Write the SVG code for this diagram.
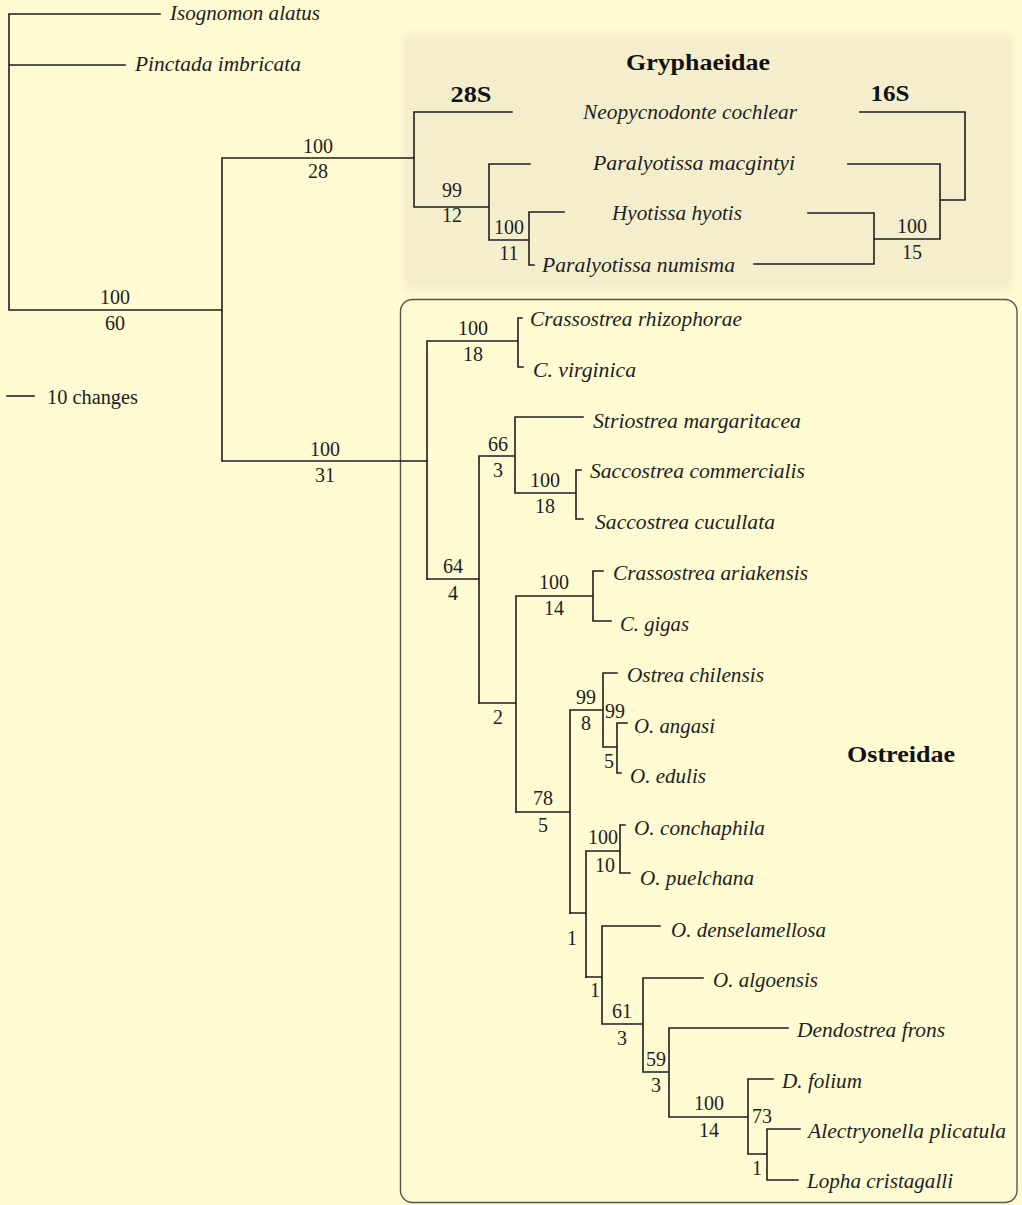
<svg xmlns="http://www.w3.org/2000/svg" width="1022" height="1205" viewBox="0 0 1022 1205">
<defs>
<filter id="soft" x="-5%" y="-5%" width="110%" height="110%"><feGaussianBlur stdDeviation="3"/></filter>
<style>
.br{fill:none;stroke:#1e1e1e;stroke-width:1.6;stroke-linecap:square}
.sp{font-family:"Liberation Serif",serif;font-style:italic;font-size:20px;fill:#1e1e1e}
.num{font-family:"Liberation Serif",serif;font-size:20px;fill:#1e1e1e;text-anchor:middle}
.ttl{font-family:"Liberation Serif",serif;font-weight:bold;font-size:24px;fill:#111;text-anchor:middle}
</style>
</defs>
<rect x="0" y="0" width="1022" height="1205" fill="#FEFAD1"/>
<rect id="gryphaeidae-bg" x="404" y="34" width="608" height="256" fill="#F4EECD" filter="url(#soft)"/>
<rect id="ostreidae-box" x="400.5" y="299.5" width="616.5" height="903" rx="12" fill="none" stroke="#555" stroke-width="1.4"/>

<g id="connectors" class="br">
<path d="M9,14 V310 M9,14 H160 M9,65 H125 M9,310 H222 M222,158 V461 M222,158 H414 M222,461 H427"/>
<path d="M414,112 V207 M414,112 H512 M414,207 H489 M489,164 V240 M489,164 H530 M489,240 H529 M529,212 V265 M529,212 H564 M529,265 H534"/>
<path d="M860,112 H965 V200 H940 M848,164 H940 V239 H874 M808,213 H874 V264 H754"/>
<path d="M427,341 V579 M427,341 H518 M518,318 V367 M518,318 H522 M518,367 H523"/>
<path d="M427,579 H479 M479,456 V703 M479,456 H515 M515,417 V493 M515,417 H583 M515,493 H576 M576,470 V519 M576,470 H581 M576,519 H583"/>
<path d="M479,703 H516 M516,596 V812 M516,596 H593 M593,571 V621 M593,571 H603 M593,621 H611"/>
<path d="M516,812 H570 M570,710 V913 M570,710 H603 M603,673 V747 M603,673 H617 M603,747 H617 M617,723 V773 M617,723 H627 M617,773 H621"/>
<path d="M570,913 H586 M586,851 V977 M586,851 H620 M620,825 V873 M620,825 H625 M620,873 H630"/>
<path d="M586,977 H602 M602,926 V1024 M602,926 H660 M602,1024 H643 M643,978 V1072 M643,978 H703 M643,1072 H669 M669,1028 V1117 M669,1028 H788 M669,1117 H748 M748,1079 V1154 M748,1079 H773 M748,1154 H767 M767,1129 V1180 M767,1129 H800 M767,1180 H798"/>
<path d="M7,396 H34"/>
</g>

<g id="titles">
<text class="ttl" x="698" y="70" textLength="144" lengthAdjust="spacingAndGlyphs">Gryphaeidae</text>
<text class="ttl" x="471" y="102" textLength="41" lengthAdjust="spacingAndGlyphs">28S</text>
<text class="ttl" x="890" y="101" textLength="39" lengthAdjust="spacingAndGlyphs">16S</text>
<text class="ttl" x="901" y="762" textLength="108" lengthAdjust="spacingAndGlyphs">Ostreidae</text>
</g>

<g id="scale"><text x="47" y="404" font-family="Liberation Serif, serif" font-size="20" fill="#1e1e1e" textLength="91" lengthAdjust="spacingAndGlyphs">10 changes</text></g>

<g id="taxa" class="sp">
<g id="t-isognomon"><text x="170" y="20" textLength="150" lengthAdjust="spacingAndGlyphs">Isognomon alatus</text></g>
<g id="t-pinctada"><text x="135" y="71" textLength="166" lengthAdjust="spacingAndGlyphs">Pinctada imbricata</text></g>
<g id="t-neopycnodonte"><text x="583" y="119" textLength="214" lengthAdjust="spacingAndGlyphs">Neopycnodonte cochlear</text></g>
<g id="t-pmacgintyi"><text x="593" y="170" textLength="202" lengthAdjust="spacingAndGlyphs">Paralyotissa macgintyi</text></g>
<g id="t-hyotissa"><text x="612" y="220" textLength="130" lengthAdjust="spacingAndGlyphs">Hyotissa hyotis</text></g>
<g id="t-pnumisma"><text x="542" y="272" textLength="193" lengthAdjust="spacingAndGlyphs">Paralyotissa numisma</text></g>
<g id="t-crhizophorae"><text x="530" y="326" textLength="212" lengthAdjust="spacingAndGlyphs">Crassostrea rhizophorae</text></g>
<g id="t-cvirginica"><text x="533" y="377" textLength="103" lengthAdjust="spacingAndGlyphs">C. virginica</text></g>
<g id="t-striostrea"><text x="593" y="428" textLength="208" lengthAdjust="spacingAndGlyphs">Striostrea margaritacea</text></g>
<g id="t-scommercialis"><text x="590" y="478" textLength="215" lengthAdjust="spacingAndGlyphs">Saccostrea commercialis</text></g>
<g id="t-scucullata"><text x="595" y="529" textLength="180" lengthAdjust="spacingAndGlyphs">Saccostrea cucullata</text></g>
<g id="t-cariakensis"><text x="613" y="580" textLength="195" lengthAdjust="spacingAndGlyphs">Crassostrea ariakensis</text></g>
<g id="t-cgigas"><text x="620" y="631" textLength="69" lengthAdjust="spacingAndGlyphs">C. gigas</text></g>
<g id="t-ochilensis"><text x="627" y="682" textLength="137" lengthAdjust="spacingAndGlyphs">Ostrea chilensis</text></g>
<g id="t-oangasi"><text x="634" y="733" textLength="81" lengthAdjust="spacingAndGlyphs">O. angasi</text></g>
<g id="t-oedulis"><text x="630" y="783" textLength="76" lengthAdjust="spacingAndGlyphs">O. edulis</text></g>
<g id="t-oconchaphila"><text x="634" y="835" textLength="131" lengthAdjust="spacingAndGlyphs">O. conchaphila</text></g>
<g id="t-opuelchana"><text x="640" y="885" textLength="114" lengthAdjust="spacingAndGlyphs">O. puelchana</text></g>
<g id="t-odenselamellosa"><text x="671" y="937" textLength="155" lengthAdjust="spacingAndGlyphs">O. denselamellosa</text></g>
<g id="t-oalgoensis"><text x="713" y="987" textLength="105" lengthAdjust="spacingAndGlyphs">O. algoensis</text></g>
<g id="t-dfrons"><text x="797" y="1037" textLength="148" lengthAdjust="spacingAndGlyphs">Dendostrea frons</text></g>
<g id="t-dfolium"><text x="782" y="1088" textLength="80" lengthAdjust="spacingAndGlyphs">D. folium</text></g>
<g id="t-alectryonella"><text x="808" y="1138" textLength="198" lengthAdjust="spacingAndGlyphs">Alectryonella plicatula</text></g>
<g id="t-lopha"><text x="807" y="1188" textLength="146" lengthAdjust="spacingAndGlyphs">Lopha cristagalli</text></g>
</g>

<g id="support" class="num">
<g id="n1"><text x="318" y="153">100</text><text x="318" y="178">28</text></g>
<g id="n2"><text x="115" y="304">100</text><text x="115" y="330">60</text></g>
<g id="n3"><text x="325" y="456">100</text><text x="325" y="482">31</text></g>
<g id="n4"><text x="452" y="197">99</text><text x="452" y="222">12</text></g>
<g id="n5"><text x="509" y="234">100</text><text x="509" y="260">11</text></g>
<g id="n6"><text x="912" y="233">100</text><text x="912" y="259">15</text></g>
<g id="n7"><text x="473" y="335">100</text><text x="473" y="361">18</text></g>
<g id="n8"><text x="453" y="573">64</text><text x="453" y="600">4</text></g>
<g id="n9"><text x="498" y="451">66</text><text x="498" y="477">3</text></g>
<g id="n10"><text x="545" y="487">100</text><text x="545" y="513">18</text></g>
<g id="n11"><text x="498" y="724">2</text></g>
<g id="n12"><text x="554" y="589">100</text><text x="554" y="615">14</text></g>
<g id="n13"><text x="543" y="805">78</text><text x="543" y="832">5</text></g>
<g id="n14"><text x="586" y="704">99</text><text x="586" y="730">8</text></g>
<g id="n15"><text x="615" y="718">99</text><text x="609" y="768">5</text></g>
<g id="n16"><text x="603" y="844">100</text><text x="605" y="872">10</text></g>
<g id="n17"><text x="572" y="945">1</text></g>
<g id="n18"><text x="595" y="997">1</text></g>
<g id="n19"><text x="622" y="1018">61</text><text x="622" y="1045">3</text></g>
<g id="n20"><text x="656" y="1066">59</text><text x="656" y="1092">3</text></g>
<g id="n21"><text x="709" y="1110">100</text><text x="709" y="1137">14</text></g>
<g id="n22"><text x="762" y="1123">73</text><text x="757" y="1175">1</text></g>
</g>
</svg>
